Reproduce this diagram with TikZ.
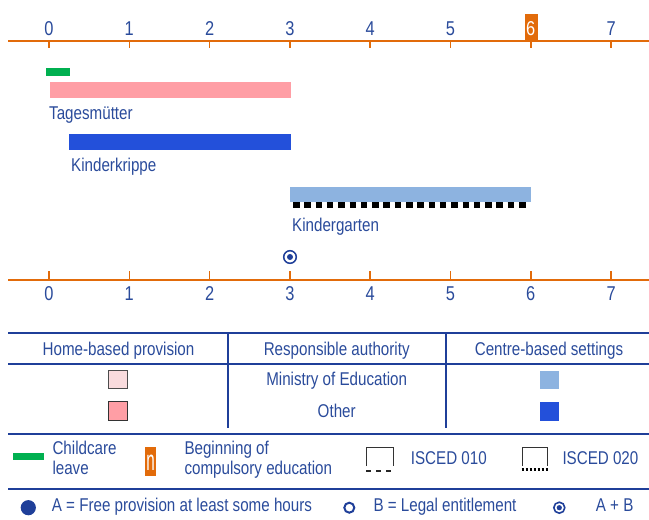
\documentclass[tikz,border=0pt]{standalone}
\usepackage{fontspec}
\setmainfont{Liberation Sans}[FakeStretch=0.82]
\definecolor{txt}{HTML}{2A4B9B}
\definecolor{org}{HTML}{E26B0A}
\definecolor{navy}{HTML}{1F3F99}
\definecolor{pinkb}{HTML}{FF9EA5}
\definecolor{pinkl}{HTML}{F9DBDD}
\definecolor{blueb}{HTML}{2350DA}
\definecolor{bluel}{HTML}{8DB3E0}
\definecolor{grn}{HTML}{00B050}
\tikzset{
  lbl/.style={anchor=base west, inner sep=0, text=txt, font=\fontsize{18.5}{22}\selectfont},
  clbl/.style={lbl, anchor=base},
  numlbl/.style={clbl, font=\fontsize{20}{24}\selectfont},
  axisline/.style={draw=org, line width=2pt},
  tabline/.style={draw=navy, line width=2pt},
  isbox/.style={draw=black!80, line width=0.8pt},
}
\begin{document}
\begin{tikzpicture}[x=1pt,y=-1pt]
\useasboundingbox (0,0) rectangle (649,520);
% top axis
\fill[org] (525,14) rectangle (537.7,41);
\draw[axisline] (8,41) -- (649,41);
\foreach \k in {0,...,7}{
  \draw[org, line width=1.6pt] ({49+80.3*\k},41) -- ({49+80.3*\k},48);
}
\foreach \k in {0,1,2,3,4,5,7}{
  \node[numlbl] (t\k) at ({49+80.3*\k},35.5) {\k};
}
\node[numlbl, text=white] (t6) at ({49+80.3*6},35.5) {6};
% bars
\fill[grn] (46,68) rectangle (70,76);
\fill[pinkb] (50,82) rectangle (291,98);
\node[lbl] (tag) at (49,119) {Tagesmütter};
\fill[blueb] (69,134) rectangle (291,150);
\node[lbl] (kk) at (71,171.5) {Kinderkrippe};
\fill[bluel] (290,187) rectangle (531,202);
\draw[black, line width=6pt, dash pattern=on 6.5pt off 4.8pt] (293,205) -- (527,205);
\node[lbl] (kg) at (292,231.5) {Kindergarten};
\draw[navy, line width=1.5pt] (290,257) circle (6.3);
\fill[navy] (290,257) circle (3);
% bottom axis
\draw[axisline] (8,280) -- (649,280);
\foreach \k in {0,...,7}{
  \draw[org, line width=1.6pt] ({49+80.3*\k},271) -- ({49+80.3*\k},280);
  \node[numlbl] (b\k) at ({49+80.3*\k},300.5) {\k};
}
% table
\draw[tabline] (8,333) -- (649,333);
\draw[tabline] (8,363.5) -- (649,363.5);
\draw[tabline] (228,333) -- (228,428);
\draw[tabline] (446,333) -- (446,428);
\node[clbl] (h1) at (118.5,355) {Home-based provision};
\node[clbl] (h2) at (336.7,355) {Responsible authority};
\node[clbl] (h3) at (549,355) {Centre-based settings};
\node[clbl] (r1) at (336.7,385.7) {Ministry of Education};
\node[clbl] (r2) at (336.7,417.5) {Other};
\draw[fill=pinkl, draw=black!70, line width=0.8pt] (108.3,370) rectangle (127.7,388.3);
\draw[fill=pinkb, draw=black!80, line width=0.8pt] (108.3,401) rectangle (127.7,420);
\fill[bluel] (540,370.5) rectangle (559,389);
\fill[blueb] (540,402) rectangle (559,420.5);
% legend
\draw[tabline] (8,434) -- (649,434);
\fill[grn] (13.3,452.5) rectangle (44,459.5);
\node[lbl] (cl1) at (52.3,454.3) {Childcare};
\node[lbl] (cl2) at (52.3,474) {leave};
\fill[org] (145,447.3) rectangle (156,476);
\node[anchor=center, inner sep=0, text=white, font=\fontsize{18.5}{22}\selectfont] (nn) at (150.5,462.5) {\scalebox{1}[1.55]{n}};
\node[lbl] (bc1) at (184.3,454.3) {Beginning of};
\node[lbl] (bc2) at (184.3,474) {compulsory education};
% ISCED 010 icon
\draw[isbox] (366,466) -- (366,447.5) -- (393,447.5) -- (393,466);
\draw[black!85, line width=2pt, dash pattern=on 5pt off 5pt] (366,470.5) -- (394,470.5);
\node[lbl] (i1) at (410.7,464.3) {ISCED 010};
% ISCED 020 icon
\draw[isbox] (522,466) -- (522,447.5) -- (547.5,447.5) -- (547.5,466);
\draw[black, line width=3pt, dash pattern=on 2.6pt off 1.4pt] (521.5,469.5) -- (548.5,469.5);
\node[lbl] (i2) at (562.3,464.3) {ISCED 020};
% bottom legend
\draw[tabline] (8,489) -- (649,489);
\fill[navy] (28.3,507.7) circle (7.6);
\node[lbl] (la) at (51.7,511.7) {A = Free provision at least some hours};
\draw[navy, line width=2pt] (349.3,507.7) circle (5);
\node[lbl] (lb) at (373.3,511.7) {B = Legal entitlement};
\draw[navy, line width=1.6pt] (559.3,507.7) circle (5.5);
\fill[navy] (559.3,507.7) circle (2.6);
\node[lbl] (lab) at (595.7,511.7) {A + B};
\end{tikzpicture}
\end{document}
